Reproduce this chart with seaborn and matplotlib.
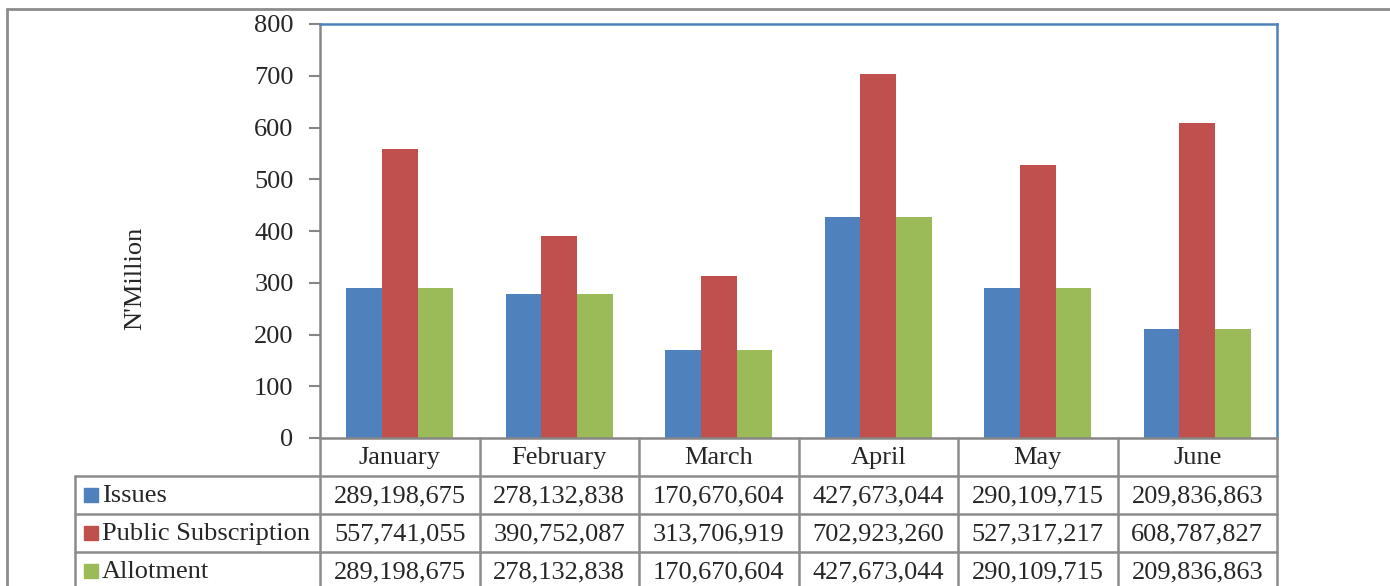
import matplotlib
matplotlib.use("Agg")
import matplotlib.pyplot as plt
from matplotlib.lines import Line2D
import seaborn as sns
import pandas as pd

months = ["January", "February", "March", "April", "May", "June"]
series_names = ["Issues", "Public Subscription", "Allotment"]
issues = [289198675, 278132838, 170670604, 427673044, 290109715, 209836863]
public_subscription = [557741055, 390752087, 313706919, 702923260, 527317217, 608787827]
allotment = [289198675, 278132838, 170670604, 427673044, 290109715, 209836863]
colors = ["#4F81BD", "#C0504D", "#9BBB59"]
y_ticks = [0, 100, 200, 300, 400, 500, 600, 700, 800]
y_label = "N'Million"

series_values = [issues, public_subscription, allotment]
rows = []
for name, vals in zip(series_names, series_values):
    for m, v in zip(months, vals):
        rows.append({"Month": m, "Series": name, "Value": v / 1e6})
df = pd.DataFrame(rows)

sns.set_theme(style="white")
plt.rcParams["font.family"] = ["Liberation Serif", "DejaVu Serif"]

FS = 19
W, H = 1390, 586
fig = plt.figure(figsize=(W / 100, H / 100), dpi=100)
fig.patch.set_facecolor("white")

# plot area in pixel coords
L, R, T, B = 320, 1277, 24, 438
ax = fig.add_axes([L / W, 1 - B / H, (R - L) / W, (B - T) / H])

sns.barplot(data=df, x="Month", y="Value", hue="Series", order=months,
            hue_order=series_names, palette=colors, width=0.67, gap=0,
            saturation=1, edgecolor="none", linewidth=0, ax=ax, legend=False)

ax.set_xlim(-0.5, len(months) - 0.5)
ax.set_ylim(0, 800)
ax.set_yticks(y_ticks)
ax.set_yticklabels([str(t) for t in y_ticks], fontsize=FS)
ax.set_xticks([])
ax.set_xlabel("")
ax.set_ylabel("")
ax.tick_params(axis="y", direction="out", length=8, width=1.5,
               color="#868686", pad=11, left=True)
for s in ["top", "right"]:
    ax.spines[s].set_color("#4F81BD")
    ax.spines[s].set_linewidth(1.8)
for s in ["left", "bottom"]:
    ax.spines[s].set_color("#868686")
    ax.spines[s].set_linewidth(1.8)

fig.text(135 / W, 1 - 278 / H, y_label, rotation=90, ha="center", va="center",
         fontsize=FS)

# helpers in pixel coords
def px(x):
    return x / W

def py(y):
    return 1 - y / H

grid_c = "#8C8C8C"
def hline(x0, x1, y, c=grid_c, lw=1.8):
    fig.add_artist(Line2D([px(x0), px(x1)], [py(y), py(y)], color=c, lw=lw,
                          transform=fig.transFigure))

def vline(x, y0, y1, c=grid_c, lw=1.8):
    fig.add_artist(Line2D([px(x), px(x)], [py(y0), py(y1)], color=c, lw=lw,
                          transform=fig.transFigure))

# outer chart border
hline(7, W + 5, 9, c="#8C8C8C", lw=2)
vline(7, 9, H + 5, c="#8C8C8C", lw=2)

# data table
col_w = (R - L) / len(months)
col_x = [L + i * col_w for i in range(len(months) + 1)]
row_y = [476, 514, 552, 590]
table_left = 75

for x in col_x:
    vline(x, B, H + 5)
vline(table_left, row_y[0], H + 5)
for y in row_y[:3]:
    hline(table_left, R, y)

# header month labels
for i, m in enumerate(months):
    fig.text(px(col_x[i] + col_w / 2), py((B + row_y[0]) / 2 + 1), m,
             ha="center", va="center", fontsize=FS)

# rows
for r, (name, vals, c) in enumerate(zip(series_names, series_values, colors)):
    yc = (row_y[r] + row_y[r + 1]) / 2
    fig.patches.append(plt.Rectangle((px(84), py(yc + 7)), 14 / W, 14 / H,
                                     transform=fig.transFigure, color=c))
    fig.text(px(102), py(yc + 1), name, ha="left", va="center", fontsize=FS)
    for i, v in enumerate(vals):
        fig.text(px(col_x[i] + col_w / 2), py(yc + 1), f"{v:,}",
                 ha="center", va="center", fontsize=FS)

fig.savefig("out.png", dpi=100, facecolor="white")
